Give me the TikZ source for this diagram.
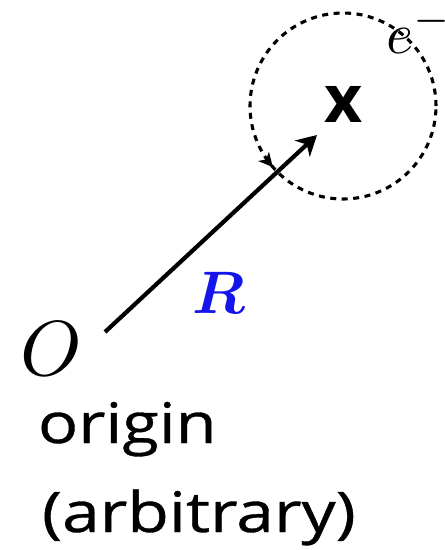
\documentclass[tikz,border=0pt]{standalone}
\usepackage{fontspec}
\usepackage{amsmath}
\usepackage{bm}
\setsansfont{Open Sans}
\newfontfamily\gillish[FakeBold=0.6]{Open Sans}
\usetikzlibrary{arrows.meta}
\definecolor{vecblue}{RGB}{20,20,235}
\tikzset{
  orbit/.style={circle, draw, line width=3.1pt, dash pattern=on 6pt off 5.5pt, inner sep=0pt, minimum size=186pt},
  vec/.style={line width=4.2pt, -{Stealth[length=20pt,width=22pt,inset=6pt]}},
  tick/.style={line width=2.8pt, -{Stealth[length=14pt,width=14pt,inset=4pt]}},
  lbl/.style={inner sep=0pt, outer sep=0pt},
}
\begin{document}
\begin{tikzpicture}[x=1pt,y=-1pt]
\useasboundingbox (0,0) rectangle (445,550);
\node[orbit] (orb) at (343,106) {};
\node[lbl, anchor=center] (elec) at (344,104) {\fontsize{66}{66}\selectfont\sffamily\bfseries x};
\node[lbl, anchor=base west] (elabel) at (386,53) {\scalebox{5.8}{$e^-$}};
\coordinate (Rstart) at (105,332);
\coordinate (Rend) at (317,135);
\draw[vec] (Rstart) -- (Rend);
\draw[tick] ([shift={(146:93)}]orb.center) arc[start angle=146, end angle=139, radius=93];
\node[lbl, anchor=base west, text=vecblue] (Rlabel) at (192,313) {\scalebox{6}{$\bm{R}$}};
\node[lbl, anchor=base west] (Olabel) at (20,375) {\scalebox{7.8}{$O$}};
\node[lbl, anchor=base west] (orig) at (38,443) {\scalebox{1.19}[1]{\fontsize{56}{56}\selectfont\gillish origin}};
\node[lbl, anchor=base west] (arb) at (42,532) {\scalebox{1.21}[1]{\fontsize{56}{56}\selectfont\gillish (arbitrary)}};
\end{tikzpicture}
\end{document}
